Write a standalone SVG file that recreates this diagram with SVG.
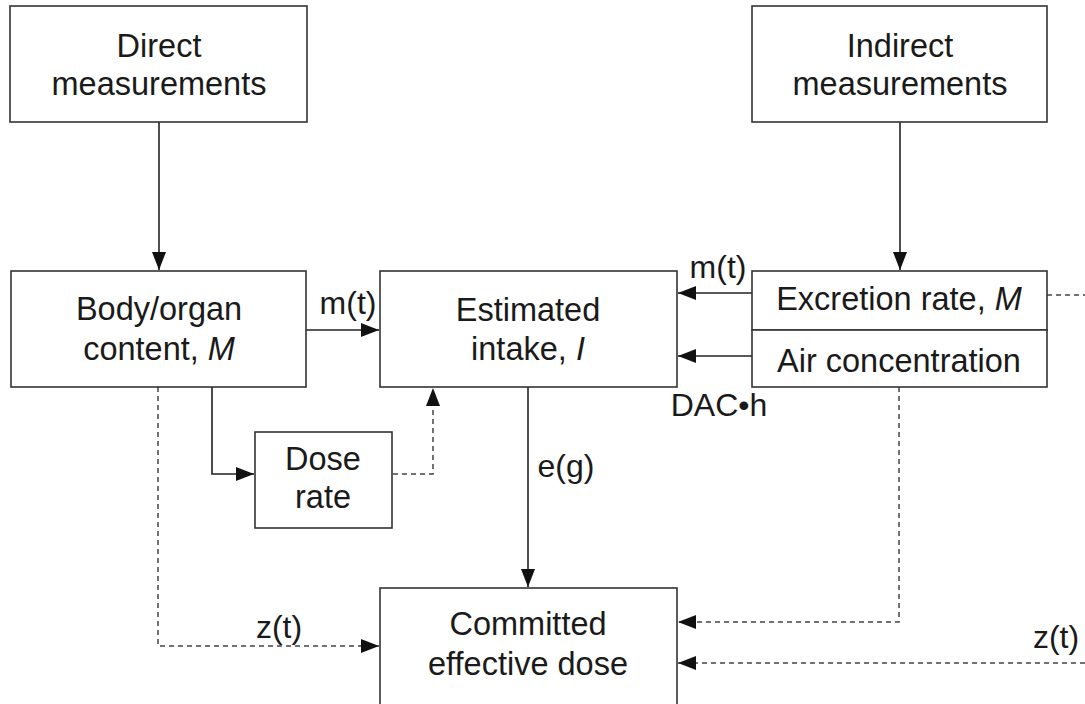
<svg xmlns="http://www.w3.org/2000/svg" width="1085" height="704" viewBox="0 0 1085 704">
<style>
.box{fill:#fff;stroke:#333;stroke-width:1.6}
.t{font-family:"Liberation Sans",Arial,sans-serif;font-size:32.5px;fill:#1a1a1a;text-anchor:middle}
.l{font-family:"Liberation Sans",Arial,sans-serif;font-size:32px;fill:#1a1a1a;text-anchor:middle}
.s{fill:none;stroke:#222;stroke-width:1.6}
.d{fill:none;stroke:#444;stroke-width:1.5;stroke-dasharray:5 4}
</style>
<defs>
<marker id="a" viewBox="0 0 18 14" refX="18" refY="7" markerWidth="18" markerHeight="14" markerUnits="userSpaceOnUse" orient="auto">
<path d="M0,0 L18,7 L0,14 Z" fill="#111"/>
</marker>
</defs>
<rect width="1085" height="704" fill="#fff"/>
<g id="connectors">
<line class="s" x1="159" y1="122" x2="159" y2="270" marker-end="url(#a)"/>
<line class="s" x1="900" y1="122" x2="900" y2="270" marker-end="url(#a)"/>
<line class="s" x1="306" y1="330" x2="379" y2="330" marker-end="url(#a)"/>
<line class="s" x1="752" y1="293" x2="678" y2="293" marker-end="url(#a)"/>
<line class="s" x1="752" y1="356" x2="678" y2="356" marker-end="url(#a)"/>
<polyline class="s" points="212,387 212,474 254,474" marker-end="url(#a)"/>
<polyline class="d" points="393,474 433,474 433,388" marker-end="url(#a)"/>
<line class="s" x1="528" y1="387" x2="528" y2="587" marker-end="url(#a)"/>
<polyline class="d" points="158,387 158,646 379,646" marker-end="url(#a)"/>
<polyline class="d" points="899,387 899,622 678,622" marker-end="url(#a)"/>
<line class="d" x1="1047" y1="295" x2="1085" y2="295"/>
<line class="d" x1="1085" y1="663" x2="678" y2="663" marker-end="url(#a)"/>
<text class="l" x="348" y="314">m(t)</text>
<text class="l" x="718" y="278">m(t)</text>
<text class="l" x="719" y="416">DAC•h</text>
<text class="l" x="566" y="477">e(g)</text>
<text class="l" x="279" y="638">z(t)</text>
<text class="l" x="1056" y="648">z(t)</text>
</g>
<g id="direct">
<rect class="box" x="10" y="6" width="297" height="116"/>
<text class="t" x="159" y="57">Direct</text>
<text class="t" x="159" y="95">measurements</text>
</g>
<g id="indirect">
<rect class="box" x="752" y="6" width="295" height="116"/>
<text class="t" x="900" y="57">Indirect</text>
<text class="t" x="900" y="95">measurements</text>
</g>
<g id="body">
<rect class="box" x="11" y="271" width="295" height="116"/>
<text class="t" x="159" y="320">Body/organ</text>
<text class="t" x="159" y="360">content, <tspan font-style="italic">M</tspan></text>
</g>
<g id="intake">
<rect class="box" x="380" y="271" width="297" height="116"/>
<text class="t" x="528" y="321">Estimated</text>
<text class="t" x="528" y="360">intake, <tspan font-style="italic">I</tspan></text>
</g>
<g id="excretion">
<rect class="box" x="752" y="271" width="295" height="59"/>
<text class="t" x="899" y="310">Excretion rate, <tspan font-style="italic">M</tspan></text>
</g>
<g id="air">
<rect class="box" x="752" y="330" width="295" height="57"/>
<text class="t" x="899" y="372">Air concentration</text>
</g>
<g id="doserate">
<rect class="box" x="255" y="432" width="137" height="96"/>
<text class="t" x="323" y="470">Dose</text>
<text class="t" x="323" y="508">rate</text>
</g>
<g id="committed">
<rect class="box" x="380" y="588" width="297" height="130"/>
<text class="t" x="528" y="635">Committed</text>
<text class="t" x="528" y="675">effective dose</text>
</g>
</svg>
